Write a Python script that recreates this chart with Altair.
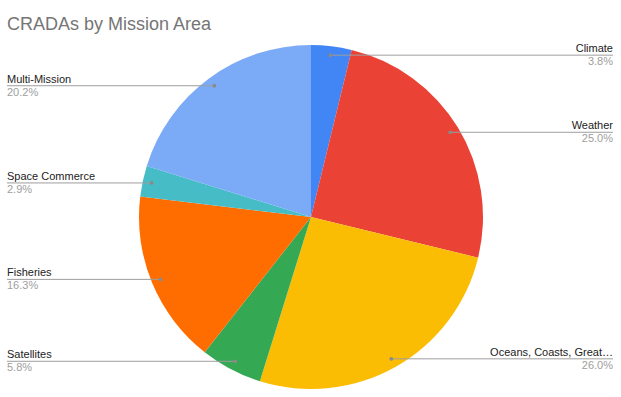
import altair as alt
import numpy as np
import pandas as pd

categories = ["Climate", "Weather", "Oceans, Coasts, Great…", "Satellites",
              "Fisheries", "Space Commerce", "Multi-Mission"]
shares = [3.8, 25.0, 26.0, 5.8, 16.3, 2.9, 20.2]
pct_labels = ["3.8%", "25.0%", "26.0%", "5.8%", "16.3%", "2.9%", "20.2%"]
colors = ["#4285F4", "#EA4335", "#FBBC04", "#34A853", "#FF6D01", "#46BDC6", "#7BAAF7"]

FONT = "Liberation Sans"
R_OUT = 172
R_DOT = 163
W, H, TOP = 621, 397, 36
CX, CY = 311, 217  # pie centre in page pixels

df = pd.DataFrame({"cat": categories, "share": shares, "pct": pct_labels})
df["order"] = range(len(df))
total = df["share"].sum()
start = df["share"].cumsum() - df["share"]
mid = 2 * np.pi * (start + df["share"] / 2) / total
df["dx"] = R_DOT * np.sin(mid)
df["dy"] = R_DOT * np.cos(mid)
df["side"] = np.where(np.sin(mid) > 0, "right", "left")
df["lx"] = np.where(df["side"] == "right", 302, -304)
df["zero"] = 0.0

xs = alt.Scale(domain=[-CX, W - CX], nice=False, zero=False)
ys = alt.Scale(domain=[-(H - CY), CY - TOP], nice=False, zero=False)

base = alt.Chart(df)

pie = base.mark_arc(outerRadius=R_OUT).encode(
    theta=alt.Theta("share:Q", stack=True),
    order=alt.Order("order:Q"),
    color=alt.Color("cat:N", scale=alt.Scale(domain=categories, range=colors), legend=None),
    x=alt.X("zero:Q", scale=xs, axis=None),
    y=alt.Y("zero:Q", scale=ys, axis=None),
)

lines = base.mark_rule(color="#9e9e9e", strokeWidth=1).encode(
    x=alt.X("dx:Q", scale=xs, axis=None),
    x2="lx:Q",
    y=alt.Y("dy:Q", scale=ys, axis=None),
)

dots = base.mark_circle(color="#8a8a8a", size=14, opacity=1).encode(
    x=alt.X("dx:Q", scale=xs, axis=None),
    y=alt.Y("dy:Q", scale=ys, axis=None),
)

layers = [pie, lines, dots]
for side in ["left", "right"]:
    sub = base.transform_filter(alt.datum.side == side)
    names = sub.mark_text(align=side, baseline="alphabetic", dy=-3, font=FONT,
                          fontSize=11, color="#222222").encode(
        x=alt.X("lx:Q", scale=xs, axis=None),
        y=alt.Y("dy:Q", scale=ys, axis=None),
        text="cat:N",
    )
    pcts = sub.mark_text(align=side, baseline="alphabetic", dy=10, font=FONT,
                         fontSize=11, color="#9e9e9e").encode(
        x=alt.X("lx:Q", scale=xs, axis=None),
        y=alt.Y("dy:Q", scale=ys, axis=None),
        text="pct:N",
    )
    layers += [names, pcts]

chart = alt.layer(*layers).properties(
    width=W,
    height=H - TOP,
    autosize=alt.AutoSizeParams(type="none"),
    padding={"left": 0, "top": TOP, "right": 0, "bottom": 0},
    background="white",
    title=alt.TitleParams("CRADAs by Mission Area", anchor="start", frame="group",
                          font=FONT, fontSize=18, fontWeight="normal", color="#757575",
                          baseline="alphabetic", offset=8, dx=7, dy=20),
).configure_view(stroke=None)

chart.save("out.html", embed_options={"renderer": "svg", "actions": False})
